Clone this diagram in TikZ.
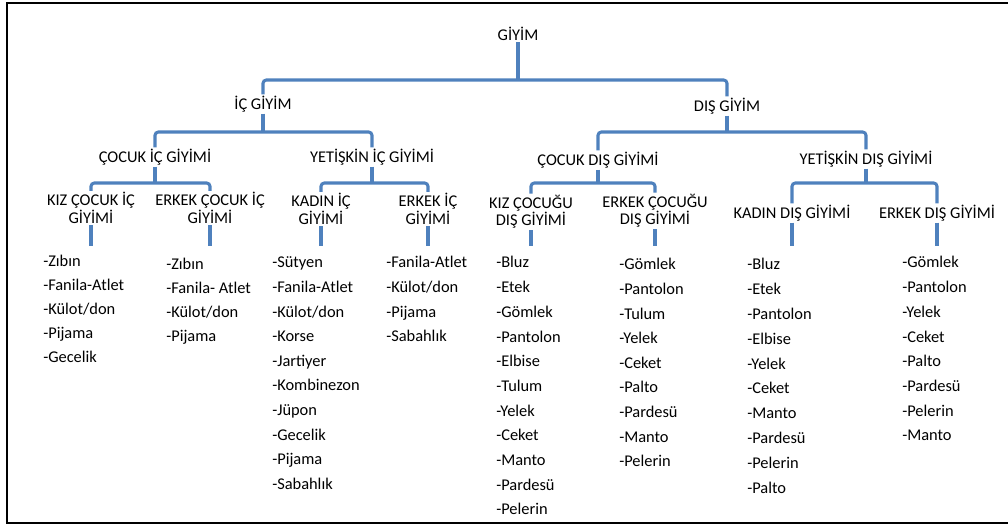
\documentclass[tikz,border=0pt]{standalone}
\usepackage{fontspec}
\setmainfont{Carlito}
\definecolor{barblue}{HTML}{4F81BD}
\tikzset{
  lbl/.style={font=\fontsize{12.3}{13}\selectfont, align=center, inner sep=1pt, text=black},
  itm/.style={font=\fontsize{12.3}{13}\selectfont, anchor=base west, inner sep=0pt, text=black},
  bar/.style={draw=barblue, line width=2.3pt, rounded corners=2.5pt},
  stub/.style={draw=barblue, line width=2.8pt},
}
\begin{document}
\begin{tikzpicture}[x=0.75pt,y=-0.75pt]
\useasboundingbox (0,0) rectangle (1008,527);
\draw[line width=2.2pt, black] (1010,3) -- (7,3) -- (7,523) -- (1010,523);

% level nodes
\node[lbl] (giyim) at (518,34) {GİYİM};
\node[lbl] (ic) at (263,104) {İÇ GİYİM};
\node[lbl] (dis) at (727,106) {DIŞ GİYİM};
\node[lbl] (cic) at (155,157) {ÇOCUK İÇ GİYİMİ};
\node[lbl] (yic) at (372,157) {YETİŞKİN İÇ GİYİMİ};
\node[lbl] (cdis) at (598,160) {ÇOCUK DIŞ GİYİMİ};
\node[lbl] (ydis) at (866,159) {YETİŞKİN DIŞ GİYİMİ};
\node[lbl] (kizic) at (91,208) {KIZ ÇOCUK İÇ\\GİYİMİ};
\node[lbl] (erkic) at (210,208) {ERKEK ÇOCUK İÇ\\GİYİMİ};
\node[lbl] (kadic) at (321,209) {KADIN İÇ\\GİYİMİ};
\node[lbl] (erkyic) at (428,209) {ERKEK İÇ\\GİYİMİ};
\node[lbl] (kizdis) at (531,212) {KIZ ÇOCUĞU\\DIŞ GİYİMİ};
\node[lbl] (erkdis) at (655,211) {ERKEK ÇOCUĞU\\DIŞ GİYİMİ};
\node[lbl] (kaddis) at (792,213) {KADIN DIŞ GİYİMİ};
\node[lbl] (erkydis) at (937,213) {ERKEK DIŞ GİYİMİ};

% bar levels
\coordinate (Y1) at (0,80);
\coordinate (Y2) at (0,132);
\coordinate (Y3) at (0,183);

% connectors
\draw[bar] (giyim.south) -- (giyim.south |- Y1);
\draw[bar] (ic.north) |- (giyim.south |- Y1) -| (dis.north);
\draw[bar] (ic.south) -- (ic.south |- Y2);
\draw[bar] (cic.north) |- (ic.south |- Y2) -| (yic.north);
\draw[bar] (dis.south) -- (dis.south |- Y2);
\draw[bar] (cdis.north) |- (dis.south |- Y2) -| (ydis.north);
\draw[bar] (cic.south) -- (cic.south |- Y3);
\draw[bar] (kizic.north) |- (cic.south |- Y3) -| (erkic.north);
\draw[bar] (yic.south) -- (yic.south |- Y3);
\draw[bar] (kadic.north) |- (yic.south |- Y3) -| (erkyic.north);
\draw[bar] (cdis.south) -- (cdis.south |- Y3);
\draw[bar] (kizdis.north) |- (cdis.south |- Y3) -| (erkdis.north);
\draw[bar] (ydis.south) -- (ydis.south |- Y3);
\draw[bar] (kaddis.north) |- (ydis.south |- Y3) -| (erkydis.north);

% item lists
\foreach \t [count=\i] in {-Zıbın,-Fanila-Atlet,-Külot/don,-Pijama,-Gecelik}
  \node[itm] (a\i) at (43,{267+(\i-1)*23.8}) {\t};
\foreach \t [count=\i] in {-Zıbın,-Fanila- Atlet,-Külot/don,-Pijama}
  \node[itm] (b\i) at (166,{270+(\i-1)*24}) {\t};
\foreach \t [count=\i] in {-Sütyen,-Fanila-Atlet,-Külot/don,-Korse,-Jartiyer,-Kombinezon,-Jüpon,-Gecelik,-Pijama,-Sabahlık}
  \node[itm] (c\i) at (272,{268+(\i-1)*24.6}) {\t};
\foreach \t [count=\i] in {-Fanila-Atlet,-Külot/don,-Pijama,-Sabahlık}
  \node[itm] (d\i) at (386,{268+(\i-1)*24.6}) {\t};
\foreach \t [count=\i] in {-Bluz,-Etek,-Gömlek,-Pantolon,-Elbise,-Tulum,-Yelek,-Ceket,-Manto,-Pardesü,-Pelerin}
  \node[itm] (e\i) at (496,{268+(\i-1)*24.7}) {\t};
\foreach \t [count=\i] in {-Gömlek,-Pantolon,-Tulum,-Yelek,-Ceket,-Palto,-Pardesü,-Manto,-Pelerin}
  \node[itm] (f\i) at (619,{270+(\i-1)*24.6}) {\t};
\foreach \t [count=\i] in {-Bluz,-Etek,-Pantolon,-Elbise,-Yelek,-Ceket,-Manto,-Pardesü,-Pelerin,-Palto}
  \node[itm] (g\i) at (747,{270+(\i-1)*24.8}) {\t};
\foreach \t [count=\i] in {-Gömlek,-Pantolon,-Yelek,-Ceket,-Palto,-Pardesü,-Pelerin,-Manto}
  \node[itm] (h\i) at (902,{268+(\i-1)*24.7}) {\t};

% stubs from labels toward item lists
\coordinate (YS) at (0,246);
\draw[stub] (kizic.south) -- (kizic.south |- YS);
\draw[stub] (erkic.south) -- (erkic.south |- YS);
\draw[stub] (kadic.south) -- (kadic.south |- YS);
\draw[stub] (erkyic.south) -- (erkyic.south |- YS);
\draw[stub] (kizdis.south) -- (kizdis.south |- YS);
\draw[stub] (erkdis.south) -- (erkdis.south |- YS);
\draw[stub] (kaddis.south) -- (kaddis.south |- YS);
\draw[stub] (erkydis.south) -- (erkydis.south |- YS);
\end{tikzpicture}
\end{document}
